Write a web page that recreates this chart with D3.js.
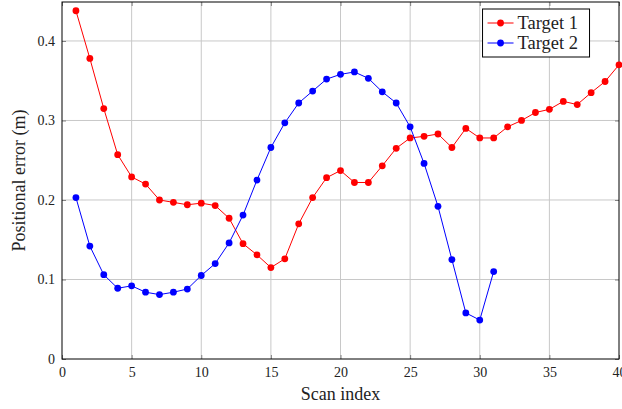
<!DOCTYPE html>
<html>
<head>
<meta charset="utf-8">
<script src="https://cdn.jsdelivr.net/npm/d3@7"></script>
<style>
  body { margin: 0; background: #fff; }
  svg text { font-family: "Liberation Serif", "Times New Roman", serif; fill: #222; }
</style>
</head>
<body>
<div id="viz"></div>
<script>
// scan indices and errors
var scans1 = d3.range(1, 41);
var target1 = [0.438, 0.378, 0.315, 0.257, 0.229, 0.220, 0.200, 0.197, 0.194, 0.196,
               0.193, 0.177, 0.145, 0.131, 0.115, 0.126, 0.170, 0.203, 0.228, 0.237,
               0.222, 0.222, 0.243, 0.265, 0.278, 0.280, 0.283, 0.266, 0.290, 0.278,
               0.278, 0.292, 0.300, 0.310, 0.314, 0.324, 0.320, 0.335, 0.349, 0.370];
var scans2 = d3.range(1, 32);
var target2 = [0.203, 0.142, 0.106, 0.089, 0.092, 0.084, 0.081, 0.084, 0.088, 0.105,
               0.120, 0.146, 0.181, 0.225, 0.266, 0.297, 0.322, 0.337, 0.352, 0.358,
               0.361, 0.353, 0.336, 0.322, 0.292, 0.246, 0.192, 0.125, 0.058, 0.049,
               0.110];
var seriesNames = ["Target 1", "Target 2"];
var seriesColors = ["#ff0000", "#0000ff"];
var xTicks = [0, 5, 10, 15, 20, 25, 30, 35, 40];
var yTicks = [0, 0.1, 0.2, 0.3, 0.4];

var W = 622, H = 409;
var margin = {top: 2, right: 3, bottom: 50, left: 62};
var width = W - margin.left - margin.right,
    height = H - margin.top - margin.bottom;

var x = d3.scaleLinear().domain([0, 40]).range([0, width]);
var y = d3.scaleLinear().domain([0, 0.449]).range([height, 0]);

var svg = d3.select("#viz").append("svg")
    .attr("width", W)
    .attr("height", H)
  .append("g")
    .attr("transform", "translate(" + margin.left + "," + margin.top + ")");

// grid
svg.append("g").selectAll("line").data(xTicks.slice(1, -1)).enter().append("line")
    .attr("x1", function(d) { return x(d); }).attr("x2", function(d) { return x(d); })
    .attr("y1", 0).attr("y2", height)
    .attr("stroke", "#c8c8c8").attr("stroke-width", 1);
svg.append("g").selectAll("line").data(yTicks.slice(1)).enter().append("line")
    .attr("y1", function(d) { return y(d); }).attr("y2", function(d) { return y(d); })
    .attr("x1", 0).attr("x2", width)
    .attr("stroke", "#c8c8c8").attr("stroke-width", 1);

// axes (ticks inward, mirrored)
var xAxis = svg.append("g").attr("transform", "translate(0," + height + ")")
    .call(d3.axisBottom(x).tickValues(xTicks).tickSize(-4).tickPadding(8).tickFormat(d3.format("d")));
var yAxis = svg.append("g")
    .call(d3.axisLeft(y).tickValues(yTicks).tickSize(-4).tickPadding(7)
      .tickFormat(function(d) { return d === 0 ? "0" : d3.format(".1f")(d); }));
svg.append("g").call(d3.axisTop(x).tickValues(xTicks).tickSize(-4).tickFormat(""));
svg.append("g").attr("transform", "translate(" + width + ",0)")
    .call(d3.axisRight(y).tickValues(yTicks).tickSize(-4).tickFormat(""));
svg.selectAll(".domain").remove();
svg.selectAll(".tick line").attr("stroke", "#808080");
svg.selectAll(".tick text").style("font-size", "14px").attr("fill", "#222");

svg.append("rect")
    .attr("width", width).attr("height", height)
    .attr("fill", "none").attr("stroke", "#000").attr("stroke-width", 1);

// series
var allSeries = [
  scans1.map(function(s, i) { return [s, target1[i]]; }),
  scans2.map(function(s, i) { return [s, target2[i]]; })
];
var line = d3.line().x(function(d) { return x(d[0]); }).y(function(d) { return y(d[1]); });

allSeries.forEach(function(pts, k) {
  svg.append("path").datum(pts)
      .attr("d", line)
      .attr("fill", "none")
      .attr("stroke", seriesColors[k])
      .attr("stroke-width", 1);
  svg.append("g").selectAll("circle").data(pts).enter().append("circle")
      .attr("cx", function(d) { return x(d[0]); })
      .attr("cy", function(d) { return y(d[1]); })
      .attr("r", 3.4)
      .attr("fill", seriesColors[k]);
});

// axis titles
svg.append("text")
    .attr("x", width / 2).attr("y", height + 41)
    .attr("text-anchor", "middle")
    .style("font-size", "18px")
    .text("Scan index");
svg.append("text")
    .attr("transform", "translate(" + (-37) + "," + (height / 2) + ") rotate(-90)")
    .attr("text-anchor", "middle")
    .style("font-size", "18px")
    .text("Positional error (m)");

// legend
var lg = svg.append("g").attr("transform", "translate(" + (x(30.2) ) + ",7)");
lg.append("rect")
    .attr("width", 107).attr("height", 48)
    .attr("fill", "#fff").attr("stroke", "#000").attr("stroke-width", 1);
seriesNames.forEach(function(name, k) {
  var row = lg.append("g").attr("transform", "translate(0," + (14 + k * 20) + ")");
  row.append("line").attr("x1", 5).attr("x2", 31).attr("y1", 0).attr("y2", 0)
      .attr("stroke", seriesColors[k]).attr("stroke-width", 1);
  row.append("circle").attr("cx", 18).attr("cy", 0).attr("r", 3.4).attr("fill", seriesColors[k]);
  row.append("text").attr("x", 35).attr("y", 6)
      .style("font-size", "18.5px")
      .text(name);
});
</script>
</body>
</html>
